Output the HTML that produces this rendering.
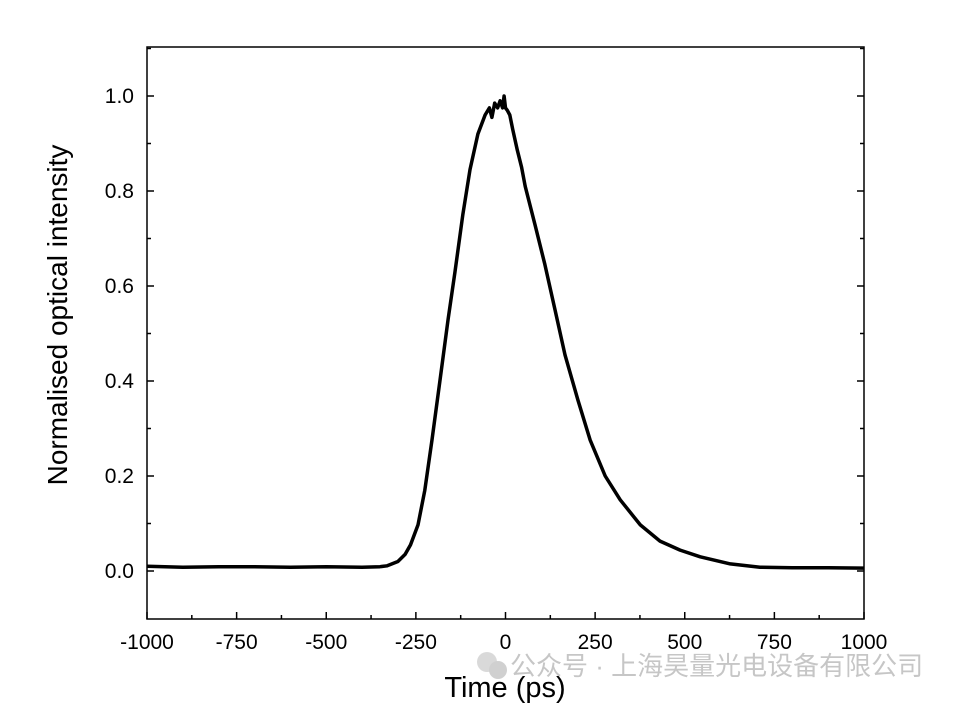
<!DOCTYPE html>
<html><head><meta charset="utf-8"><style>
body{margin:0;background:#fff;width:965px;height:705px;overflow:hidden}
text{font-family:"Liberation Sans","Noto Sans CJK SC",sans-serif}
</style></head><body>
<svg id="chart" width="965" height="705">
<g id="axes"></g><g id="plot"></g>
<text x="505" y="697" font-size="29" text-anchor="middle">Time (ps)</text>
<text transform="translate(67,315) rotate(-90)" font-size="28" text-anchor="middle">Normalised optical intensity</text>
<g opacity="0.55">
<circle cx="487" cy="662" r="10" fill="#bbb"/><circle cx="498" cy="670" r="9" fill="#aaa"/>
<text x="510" y="675" font-size="26" fill="#999">公众号 · 上海昊量光电设备有限公司</text>
</g>
</svg>
<script>
const xTicks=[-1000,-750,-500,-250,0,250,500,750,1000];
const yTicks=[0.0,0.2,0.4,0.6,0.8,1.0];
const yTickLabels=["0.0","0.2","0.4","0.6","0.8","1.0"];
const timePs=[-1000,-900,-800,-700,-600,-500,-400,-350,-330,-300,-280,-265,-244,-225,-205,-183,-160,-141,-119,-99,-77,-57,-45,-38,-30,-22,-15,-8,-4,0,5,12,20,33,45,55,82,110,138,166,202,236,278,320,376,431,487,543,627,710,800,900,1000];
const intensity=[0.010,0.008,0.009,0.009,0.008,0.009,0.008,0.009,0.011,0.020,0.035,0.055,0.097,0.170,0.276,0.400,0.530,0.630,0.750,0.845,0.920,0.960,0.975,0.955,0.985,0.975,0.990,0.975,1.000,0.975,0.970,0.960,0.930,0.886,0.850,0.810,0.730,0.645,0.550,0.455,0.360,0.276,0.200,0.150,0.097,0.063,0.044,0.030,0.015,0.008,0.007,0.007,0.006];
const L=147,R=864,T=47,B=619;
const sx=v=>L+(v+1000)/2000*(R-L);
const sy=v=>571-v*475;
const NS="http://www.w3.org/2000/svg";
const ax=document.getElementById('axes'),pl=document.getElementById('plot');
function mk(tag,a,p){const e=document.createElementNS(NS,tag);for(const k in a)e.setAttribute(k,a[k]);p.appendChild(e);return e;}
const fr=mk('rect',{x:L,y:T,width:R-L,height:B-T,fill:'none',stroke:'#000','stroke-width':1.5},ax);


xTicks.forEach((t,i)=>{const x=sx(t);
mk('line',{x1:x,x2:x,y1:B,y2:B-7,stroke:'#000','stroke-width':1.5},ax);
if(i<xTicks.length-1){const xm=sx(t+125);mk('line',{x1:xm,x2:xm,y1:B,y2:B-4,stroke:'#000','stroke-width':1.5},ax);}
const tx=mk('text',{x:x,y:649,'font-size':21,'text-anchor':'middle'},ax);tx.textContent=t;

});
yTicks.forEach((t,i)=>{const y=sy(t);
mk('line',{x1:L,x2:L+7,y1:y,y2:y,stroke:'#000','stroke-width':1.5},ax);
mk('line',{x1:R,x2:R-7,y1:y,y2:y,stroke:'#000','stroke-width':1.5},ax);
const ym=sy(t+0.1);if(ym>T){mk('line',{x1:L,x2:L+4,y1:ym,y2:ym,stroke:'#000','stroke-width':1.5},ax);mk('line',{x1:R,x2:R-4,y1:ym,y2:ym,stroke:'#000','stroke-width':1.5},ax);}
const tx=mk('text',{x:134,y:y+7,'font-size':21,'text-anchor':'end'},ax);tx.textContent=yTickLabels[i];

});
const d=timePs.map((t,i)=>(i?'L':'M')+sx(t).toFixed(1)+','+sy(intensity[i]).toFixed(1)).join(' ');
const path=mk('path',{d:d,fill:'none',stroke:'#000','stroke-width':3.5,'stroke-linejoin':'round'},pl);


</script>
</body></html>
